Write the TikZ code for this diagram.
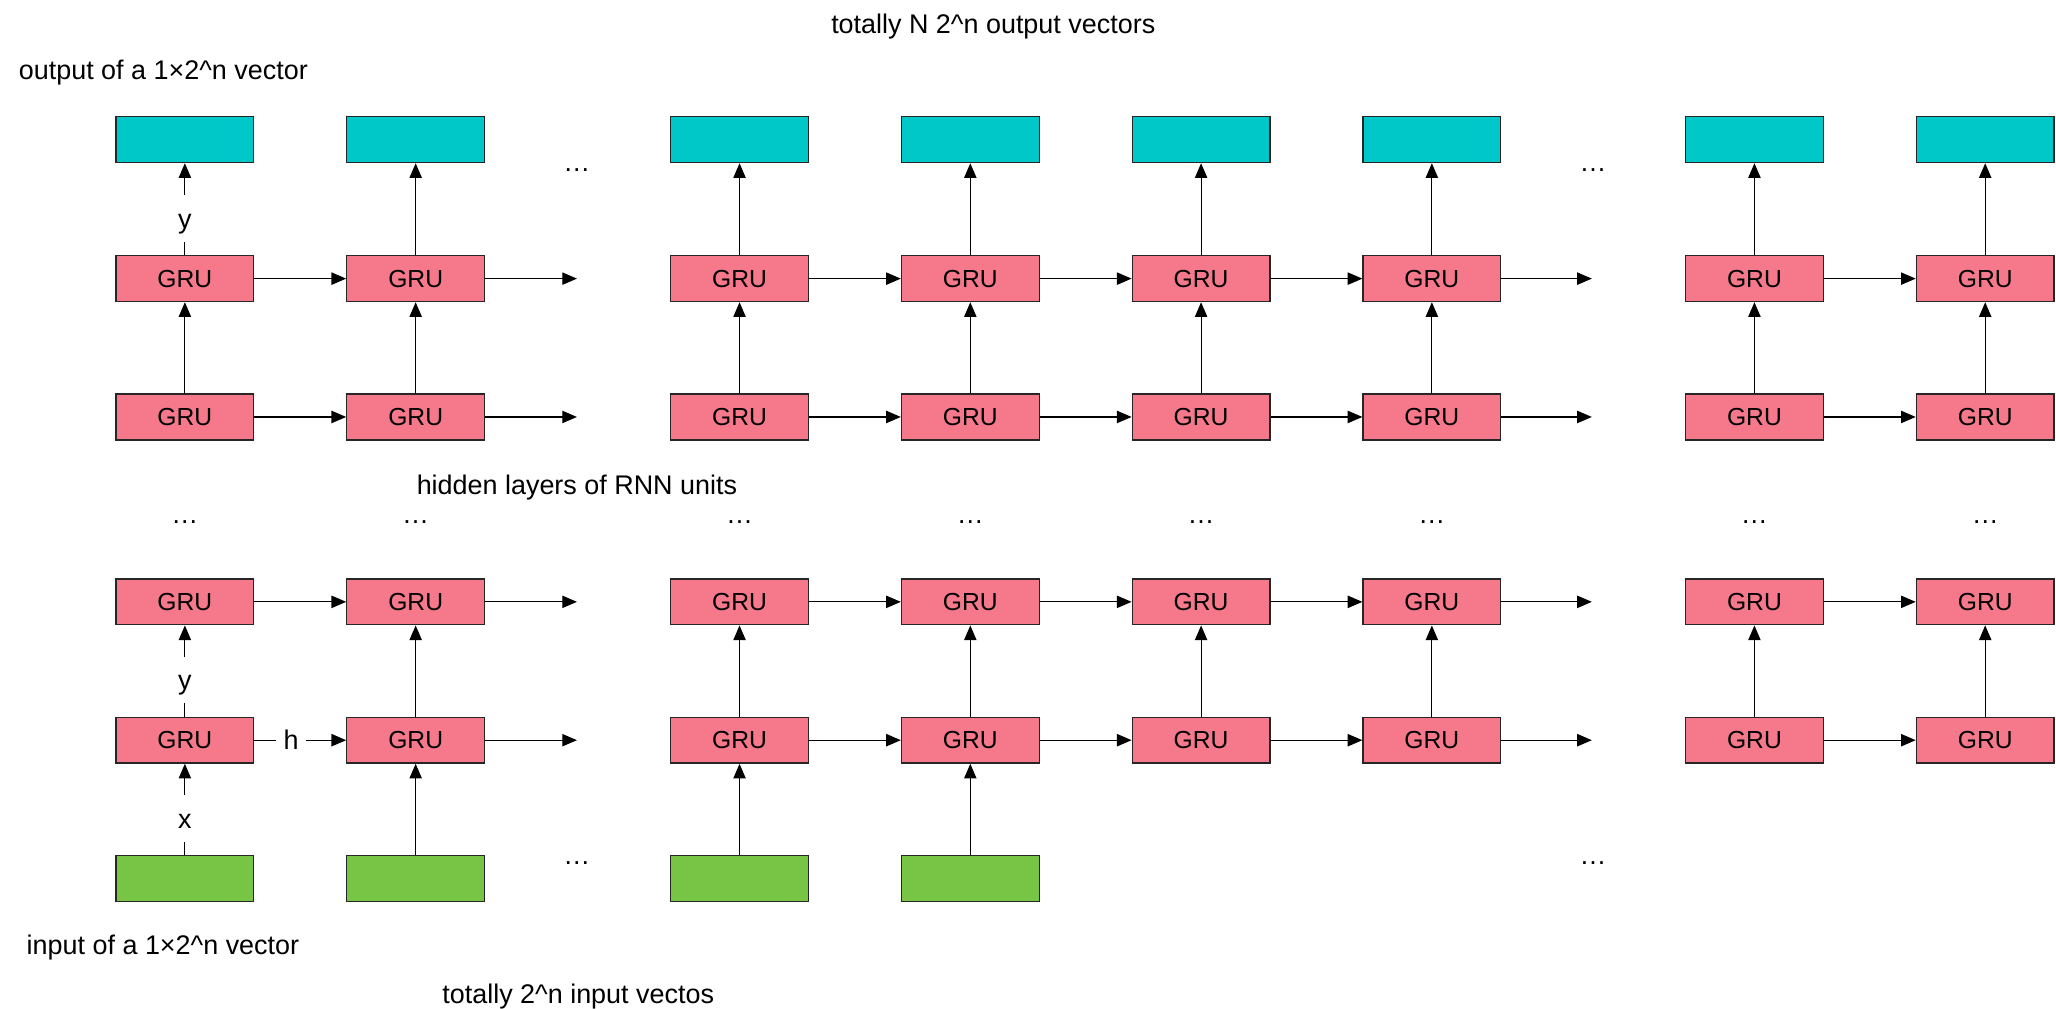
\documentclass[tikz,border=0pt]{standalone}
\usepackage{fontspec}
\setmainfont{Liberation Sans}
\usetikzlibrary{arrows.meta}
\definecolor{outc}{RGB}{0,200,200}
\definecolor{gruc}{RGB}{245,121,139}
\definecolor{inc}{RGB}{120,196,68}
\begin{document}
\begin{tikzpicture}[x=0.5pt,y=-0.5pt,
  box/.style={draw=black!85,line width=0.5pt,minimum width=52.5pt,minimum height=17.5pt,inner sep=0pt},
  outbox/.style={box,fill=outc},
  grubox/.style={box,fill=gruc,font=\fontsize{9.4}{11}\selectfont},
  inbox/.style={box,fill=inc},
  conn/.style={line width=0.45pt,-{Triangle[length=5.6pt,width=4.7pt]}},
  lbl/.style={fill=white,inner xsep=3pt,inner ysep=2pt,text height=10.6pt,text depth=3.2pt,font=\fontsize{10.27}{12}\selectfont,pos=0.4},
  txt/.style={font=\fontsize{10.27}{12}\selectfont,inner sep=0pt},
  dots/.style={font=\fontsize{10.27}{12}\selectfont,inner sep=0pt},
]
\useasboundingbox (0,0) rectangle (1568,769.5);
% columns
\foreach \i/\x in {1/141,2/317,3/564,4/740,5/916,6/1092,7/1338,8/1514}{
  \node[outbox] (o\i) at (\x,106.5) {};
  \node[grubox] (a\i) at (\x,212.5) {GRU};
  \node[grubox] (b\i) at (\x,318) {GRU};
  \node[grubox] (c\i) at (\x,459) {GRU};
  \node[grubox] (d\i) at (\x,564.5) {GRU};
  \node[dots] (m\i) at (\x,398) {…};
}
\foreach \i/\x in {1/141,2/317,3/564,4/740}{
  \node[inbox] (e\i) at (\x,670) {};
}
% texts
\node[txt] (title) at (757.5,20) {totally N 2\^{}n output vectors};
\node[txt,anchor=west] (outlbl) at (14,55) {output of a 1×2\^{}n vector};
\node[txt] (hidden) at (440,372) {hidden layers of RNN units};
\node[txt,anchor=west] (inlbl) at (20,723) {input of a 1×2\^{}n vector};
\node[txt,anchor=west] (intot) at (337,760) {totally 2\^{}n input vectos};
% dots
\node[dots] (dt1) at (440,130) {…};
\node[dots] (dt2) at (1215,130) {…};
\node[dots] (db1) at (440,658) {…};
\node[dots] (db2) at (1215,658) {…};
% trailing arrow ends
\coordinate (ta2) at (440,212.5);
\coordinate (tb2) at (440,318);
\coordinate (tc2) at (440,459);
\coordinate (td2) at (440,564.5);
\coordinate (ta6) at (1214,212.5);
\coordinate (tb6) at (1214,318);
\coordinate (tc6) at (1214,459);
\coordinate (td6) at (1214,564.5);
% horizontal connectors
\foreach \r in {a,b,c}{
  \draw[conn] (\r1) -- (\r2);
  \draw[conn] (\r3) -- (\r4);
  \draw[conn] (\r4) -- (\r5);
  \draw[conn] (\r5) -- (\r6);
  \draw[conn] (\r7) -- (\r8);
  \draw[conn] (\r2) -- (t\r2);
  \draw[conn] (\r6) -- (t\r6);
}
\draw[conn] (d1) -- node[lbl]{h} (d2);
\draw[conn] (d3) -- (d4);
\draw[conn] (d4) -- (d5);
\draw[conn] (d5) -- (d6);
\draw[conn] (d7) -- (d8);
\draw[conn] (d2) -- (td2);
\draw[conn] (d6) -- (td6);
% vertical connectors
\draw[conn] (a1) -- node[lbl]{y} (o1);
\draw[conn] (d1) -- node[lbl]{y} (c1);
\draw[conn] (e1) -- node[lbl]{x} (d1);
\draw[conn] (b1) -- (a1);
\foreach \i in {2,...,8}{
  \draw[conn] (b\i) -- (a\i);
  \draw[conn] (a\i) -- (o\i);
  \draw[conn] (d\i) -- (c\i);
}
\foreach \i in {2,3,4}{
  \draw[conn] (e\i) -- (d\i);
}
\end{tikzpicture}
\end{document}
